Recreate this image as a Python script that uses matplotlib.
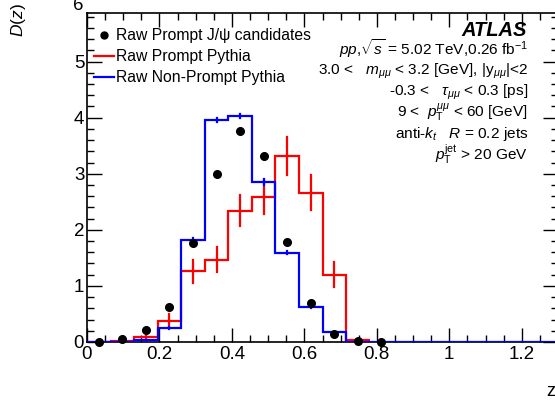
import numpy as np
import matplotlib
matplotlib.use("Agg")
import matplotlib.pyplot as plt
from matplotlib.ticker import MultipleLocator
from matplotlib.lines import Line2D
import matplotlib.transforms as mtrans

plt.rcParams["font.family"] = ["Liberation Sans", "DejaVu Sans"]
plt.rcParams["mathtext.fontset"] = "custom"
plt.rcParams["mathtext.rm"] = "Liberation Sans"
plt.rcParams["mathtext.it"] = "Liberation Sans:italic"
plt.rcParams["mathtext.bf"] = "Liberation Sans:bold"

# 20 uniform bins in z from 0 to 1.3
bin_edges = np.linspace(0.0, 1.3, 21)

# Raw prompt J/psi candidates (data points)
data_vals = [0.0, 0.05, 0.21, 0.63, 1.76, 3.0, 3.77, 3.31, 1.79, 0.70, 0.15, 0.01, 0.0]

# Raw prompt Pythia (drawn up to z = 0.78)
prompt_vals = [0.0, 0.01, 0.09, 0.38, 1.26, 1.47, 2.34, 2.59, 3.32, 2.66, 1.20, 0.03]
prompt_errs = [0.0, 0.0, 0.07, 0.12, 0.21, 0.22, 0.28, 0.30, 0.34, 0.31, 0.22, 0.0]

# Raw non-prompt Pythia
nonprompt_vals = [0.0, 0.0, 0.03, 0.25, 1.82, 3.96, 4.03, 2.85, 1.59, 0.62, 0.17,
                  0.0, 0.0, 0.0, 0.0, 0.0, 0.0, 0.0, 0.0, 0.0]
nonprompt_errs = [0.0, 0.0, 0.01, 0.02, 0.04, 0.03, 0.04, 0.05, 0.03, 0.02, 0.01,
                  0.0, 0.0, 0.0, 0.0, 0.0, 0.0, 0.0, 0.0, 0.0]

x_ticks = [0, 0.2, 0.4, 0.6, 0.8, 1.0, 1.2]
x_tick_labels = ["0", "0.2", "0.4", "0.6", "0.8", "1", "1.2"]
y_ticks = [0, 1, 2, 3, 4, 5]

W, H = 555, 405
fig = plt.figure(figsize=(W / 100, H / 100), dpi=100)
ax = fig.add_axes([87 / W, 1 - 342 / H, (558 - 87) / W, (342 - 13.3) / H])

centers = 0.5 * (bin_edges[:-1] + bin_edges[1:])


def draw_hist(vals, errs, color):
    n = len(vals)
    edges = bin_edges[: n + 1]
    ax.stairs(vals, edges, color=color, lw=1.6, baseline=None, zorder=3)
    c = centers[:n]
    for xc, v, e in zip(c, vals, errs):
        if e > 0:
            ax.plot([xc, xc], [v - e, v + e], color=color, lw=1.6, zorder=3)


draw_hist(prompt_vals, prompt_errs, "#ff0000")
draw_hist(nonprompt_vals, nonprompt_errs, "#0000ff")
ax.plot(centers[: len(data_vals)], data_vals, "o", color="black", ms=5.5, zorder=4,
        clip_on=False)

ax.set_xlim(0, 1.3)
ax.set_ylim(0, 5.86)
ax.set_xticks(x_ticks)
ax.set_xticklabels(x_tick_labels)
ax.set_yticks(y_ticks)
ax.xaxis.set_minor_locator(MultipleLocator(0.05))
ax.yaxis.set_minor_locator(MultipleLocator(0.2))
ax.tick_params(which="both", direction="in", top=True, right=True, labelsize=13.5,
               width=1.0, color="black")
ax.tick_params(which="major", length=10)
ax.tick_params(which="minor", length=5)
ax.tick_params(axis="y", which="major", length=11, pad=2)
ax.tick_params(axis="x", which="major", pad=3)
for s in ax.spines.values():
    s.set_linewidth(1.2)

# "6" label sitting just above the top of the frame
trans = mtrans.blended_transform_factory(ax.transAxes, ax.transData)
ax.text(-0.008, 6.0, "6", transform=trans, ha="right", va="center", fontsize=13.5,
        clip_on=False)

# axis titles
fig.text(555 / W, 1 - 391 / H, "z", ha="right", va="center", fontsize=13)
fig.text(19 / W, 1 - 3 / H, "$D(z)$", ha="center", va="top", rotation=90, fontsize=12.5)

# legend
handles = [
    Line2D([], [], ls="none", marker="o", color="black", ms=5),
    Line2D([], [], color="#ff0000", lw=1.6),
    Line2D([], [], color="#0000ff", lw=1.6),
]
labels = ["Raw Prompt J/\u03c8 candidates", "Raw Prompt Pythia", "Raw Non-Prompt Pythia"]
ax.legend(handles, labels, loc="upper left", bbox_to_anchor=(0.014, 0.955), frameon=False,
          fontsize=11.3, handlelength=1.27, handletextpad=0.18, labelspacing=0.38,
          borderpad=0.0, borderaxespad=0.0)

# ATLAS label and selection text (baselines)
tx = 528 / W
fig.text(527 / W, 1 - 36 / H, "ATLAS", ha="right", va="baseline", fontsize=14.5,
         fontweight="bold", fontstyle="italic")
lines = [
    (55, r"$pp$,$\sqrt{s}$ = 5.02 TeV,0.26 fb$^{-1}$"),
    (74.5, r"3.0 <   $m_{\mu\mu}$ < 3.2 [GeV], |y$_{\mu\mu}$|<2"),
    (96, r"-0.3 <   $\tau_{\mu\mu}$ < 0.3 [ps]"),
    (116.5, r"9 <  $p_{\mathrm{T}}^{\mu\mu}$ < 60 [GeV]"),
    (138, r"anti-$k_{t}$   $R$ = 0.2 jets"),
    (160, r"$p_{\mathrm{T}}^{\mathrm{jet}}$ > 20 GeV"),
]
for yy, s in lines:
    fig.text(tx, 1 - yy / H, s, ha="right", va="baseline", fontsize=11.1)

fig.savefig("out.png", dpi=100)
